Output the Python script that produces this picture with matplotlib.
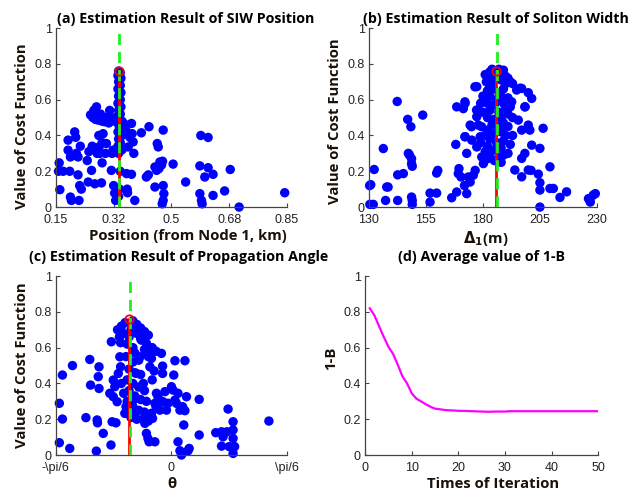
import numpy as np
import matplotlib
matplotlib.use("Agg")
import matplotlib.pyplot as plt

# (a) SIW position estimates (km) vs cost
pos_x = [0.160, 0.158, 0.162, 0.172, 0.187, 0.192, 0.194, 0.197, 0.187, 0.194,
         0.207, 0.210, 0.212, 0.217, 0.217, 0.220, 0.222, 0.227, 0.224, 0.245,
         0.248, 0.250, 0.255, 0.258, 0.260, 0.265, 0.273, 0.268, 0.278, 0.281,
         0.283, 0.288, 0.290, 0.293, 0.298, 0.303, 0.308, 0.313, 0.318, 0.323,
         0.325, 0.328, 0.331, 0.262, 0.270, 0.285, 0.290, 0.300, 0.310, 0.320,
         0.330, 0.280, 0.290, 0.275, 0.300, 0.320,
         0.340, 0.345, 0.338, 0.347, 0.340, 0.345, 0.338, 0.347, 0.340, 0.345,
         0.338, 0.347, 0.340, 0.345, 0.338, 0.350, 0.340, 0.345, 0.338, 0.350,
         0.340, 0.345, 0.338, 0.350, 0.340, 0.345, 0.343, 0.340,
         0.356, 0.362, 0.369, 0.374, 0.379, 0.381, 0.384, 0.386, 0.364, 0.379,
         0.366, 0.367, 0.389, 0.409, 0.432, 0.424, 0.430, 0.450, 0.457, 0.460,
         0.465, 0.473, 0.475, 0.470, 0.462, 0.455, 0.450, 0.475, 0.477, 0.475,
         0.472, 0.505, 0.543, 0.589, 0.611, 0.586, 0.611, 0.601, 0.626, 0.586,
         0.591, 0.593, 0.626, 0.661, 0.678, 0.705, 0.843]
pos_y = [0.247, 0.200, 0.097, 0.200, 0.374, 0.200, 0.056, 0.037, 0.318, 0.280,
         0.420, 0.390, 0.300, 0.280, 0.180, 0.037, 0.120, 0.100, 0.340, 0.260,
         0.140, 0.310, 0.515, 0.205, 0.340, 0.540, 0.560, 0.130, 0.486, 0.336,
         0.300, 0.135, 0.247, 0.410, 0.477, 0.355, 0.505, 0.540, 0.205, 0.318,
         0.120, 0.078, 0.037, 0.500, 0.490, 0.520, 0.480, 0.490, 0.470, 0.480,
         0.500, 0.400, 0.360, 0.300, 0.300, 0.300,
         0.760, 0.750, 0.735, 0.720, 0.700, 0.680, 0.660, 0.640, 0.620, 0.600,
         0.580, 0.560, 0.540, 0.520, 0.500, 0.480, 0.460, 0.440, 0.420, 0.400,
         0.380, 0.360, 0.340, 0.320, 0.300, 0.200, 0.100, 0.060,
         0.467, 0.430, 0.336, 0.390, 0.467, 0.410, 0.364, 0.300, 0.187, 0.183,
         0.100, 0.080, 0.037, 0.415, 0.449, 0.168, 0.180, 0.224, 0.355, 0.336,
         0.252, 0.256, 0.430, 0.235, 0.215, 0.205, 0.112, 0.120, 0.075, 0.037,
         0.018, 0.240, 0.140, 0.400, 0.389, 0.230, 0.220, 0.168, 0.183, 0.075,
         0.037, 0.018, 0.065, 0.090, 0.210, 0.000, 0.080]
pos_true = 0.341
pos_best = (0.342, 0.762)

# (b) soliton width estimates (m) vs cost
wid_x = [130.3, 130.8, 130.4, 131.9, 132.3, 136.3, 137.3, 137.8, 138.4, 142.4,
         142.6, 142.6, 145.1, 147.0, 147.3, 147.8, 148.4, 148.7, 148.7, 149.0,
         148.7, 149.0, 149.0, 153.6, 156.8, 156.8, 159.7, 160.2, 159.7, 166.3,
         168.5, 168.5, 168.1, 169.5, 169.2, 170.4, 171.4, 172.2, 171.9, 172.9,
         172.2, 172.9, 173.6, 174.4, 174.4, 175.1, 175.8, 176.6, 177.3, 177.3,
         177.7, 177.3, 178.0, 178.8, 179.5, 180.2, 180.9, 181.7, 176.5, 172.1,
         177.2, 175.0, 179.4, 172.1,
         181.0, 182.0, 183.0, 184.0, 185.0, 187.0, 188.0, 189.0, 190.0, 191.0,
         192.0, 193.0, 181.5, 183.0, 184.0, 188.0, 190.0, 186.0, 185.0, 187.0,
         189.0,
         182.0, 184.0, 187.0, 189.0, 183.0, 186.0, 188.0, 182.0, 185.0, 189.0,
         183.0, 187.0, 190.0, 182.0, 185.0, 188.0, 191.0, 184.0, 187.0, 189.0,
         182.0, 185.0, 188.0, 190.0, 183.0, 186.0, 189.0, 182.0, 185.0, 188.0,
         183.0, 187.0, 189.0, 182.0, 185.0, 188.0, 191.0, 192.0, 193.0, 191.0,
         193.0, 192.0, 191.0, 180.0, 179.0, 180.0, 179.0, 181.0,
         192.6, 194.8, 197.0, 199.9, 201.4, 198.4, 195.5, 197.0, 199.9, 200.6,
         206.4, 201.4, 205.0, 198.4, 197.0, 194.0, 197.0, 199.9, 204.3, 205.0,
         209.4, 209.4, 210.9, 205.0, 213.8, 216.7, 226.9, 228.4, 205.0, 226.3,
         227.1, 229.3, 196.3, 198.5, 201.1]
wid_y = [0.120, 0.125, 0.015, 0.015, 0.210, 0.327, 0.037, 0.112, 0.112, 0.590,
         0.037, 0.180, 0.187, 0.490, 0.300, 0.290, 0.449, 0.270, 0.243, 0.228,
         0.056, 0.037, 0.015, 0.514, 0.028, 0.078, 0.078, 0.205, 0.190, 0.052,
         0.084, 0.560, 0.350, 0.215, 0.187, 0.168, 0.550, 0.580, 0.120, 0.075,
         0.393, 0.300, 0.168, 0.140, 0.458, 0.374, 0.178, 0.205, 0.336, 0.673,
         0.542, 0.505, 0.458, 0.393, 0.280, 0.243, 0.400, 0.589, 0.672, 0.588,
         0.542, 0.449, 0.449, 0.393,
         0.740, 0.720, 0.755, 0.770, 0.760, 0.770, 0.755, 0.740, 0.730, 0.720,
         0.700, 0.690, 0.700, 0.680, 0.700, 0.710, 0.690, 0.720, 0.740, 0.730,
         0.765,
         0.650, 0.660, 0.640, 0.660, 0.620, 0.600, 0.620, 0.580, 0.570, 0.580,
         0.540, 0.530, 0.550, 0.500, 0.490, 0.500, 0.520, 0.460, 0.450, 0.470,
         0.430, 0.410, 0.420, 0.400, 0.380, 0.360, 0.370, 0.340, 0.320, 0.330,
         0.300, 0.280, 0.290, 0.270, 0.260, 0.250, 0.300, 0.350, 0.400, 0.450,
         0.500, 0.560, 0.610, 0.620, 0.580, 0.530, 0.360, 0.310,
         0.588, 0.654, 0.663, 0.639, 0.607, 0.560, 0.486, 0.430, 0.458, 0.430,
         0.440, 0.346, 0.328, 0.300, 0.272, 0.207, 0.169, 0.207, 0.184, 0.136,
         0.225, 0.104, 0.104, 0.095, 0.054, 0.085, 0.039, 0.067, 0.000, 0.047,
         0.028, 0.075, 0.664, 0.560, 0.205]
wid_true = 186.1
wid_best = (185.6, 0.762)

# (c) propagation angle estimates (degrees, axis spans -pi/6..pi/6) vs cost
ang_x = [-29.1, -28.3, -28.3, -29.1, -26.4, -25.7, -22.2, -21.2, -21.0, -19.5,
         -19.3, -19.2, -19.0, -18.8, -18.8, -17.7, -15.7, -15.4, -14.4, -15.6,
         -13.2, -16.0, -15.1, -15.1, -14.7, -13.8, -13.4, -13.2, -14.1, -13.0,
         -12.4, -12.1, -11.8,
         -9.9, -9.5, -9.1, -8.2, -7.8, -7.3, -6.5, -6.1, -5.6, -5.2,
         -6.9, -6.5, -6.1, -5.8, -4.3, -4.9, -5.2, -4.3, -3.9, -3.5,
         -3.0, -2.6, -2.3, -2.3, -2.2, -1.7, -1.3, -0.9, 0.0, 0.4,
         0.6, 0.9, 0.9, 1.3, 1.7, 2.2, 2.9, 3.5, 3.2, 1.7,
         2.2, 2.6, 4.3, 4.6, 3.5, 3.9, 7.2, 7.2, 11.5, 13.0,
         13.4, 14.4, 14.7, 13.0, 15.0, 16.0, 16.0, 16.0, 16.4, 16.0,
         25.3,
         -14.0, -13.0, -12.0, -10.0, -9.0, -8.0, -7.0, -6.0, -12.5, -10.5,
         -9.0, -11.0, -8.0, -13.5,
         -11.5, -10.0, -9.5, -11.8, -10.0, -8.5, -11.0, -9.5, -8.0, -11.5,
         -10.0, -8.5, -7.0, -11.0, -9.5, -8.0, -6.5, -11.5, -10.0, -8.5,
         -7.0, -5.5, -10.5, -9.0, -7.5, -6.0, -4.0, -3.0, -5.0, -4.5,
         -6.0, -7.0, -5.0, -4.0]
ang_y = [0.289, 0.447, 0.201, 0.069, 0.037, 0.500, 0.209, 0.534, 0.391, 0.022,
         0.196, 0.180, 0.438, 0.372, 0.493, 0.121, 0.056, 0.186, 0.180, 0.633,
         0.628, 0.345, 0.326, 0.419, 0.382, 0.456, 0.549, 0.493, 0.298, 0.400,
         0.345, 0.233, 0.270,
         0.307, 0.233, 0.456, 0.549, 0.642, 0.400, 0.624, 0.568, 0.493, 0.540,
         0.177, 0.121, 0.093, 0.074, 0.074, 0.205, 0.233, 0.289, 0.345, 0.326,
         0.251, 0.568, 0.456, 0.497, 0.298, 0.354, 0.251, 0.289, 0.382, 0.363,
         0.447, 0.527, 0.307, 0.289, 0.345, 0.251, 0.270, 0.248, 0.168, 0.074,
         0.024, 0.000, 0.024, 0.037, 0.527, 0.326, 0.311, 0.112, 0.125, 0.130,
         0.102, 0.130, 0.257, 0.050, 0.047, 0.186, 0.140, 0.093, 0.047, 0.009,
         0.190,
         0.700, 0.720, 0.740, 0.750, 0.730, 0.710, 0.690, 0.670, 0.680, 0.700,
         0.680, 0.660, 0.650, 0.660,
         0.620, 0.600, 0.570, 0.550, 0.520, 0.530, 0.480, 0.460, 0.450, 0.420,
         0.400, 0.380, 0.360, 0.360, 0.330, 0.310, 0.300, 0.300, 0.270, 0.250,
         0.240, 0.220, 0.210, 0.200, 0.200, 0.190, 0.270, 0.300, 0.420, 0.470,
         0.550, 0.590, 0.600, 0.580]
ang_true = -10.8
ang_best = (-11.1, 0.760)

# (d) average value of 1-B per iteration
iters = list(range(1, 51))
one_minus_b = [0.820, 0.780, 0.720, 0.660, 0.605, 0.565, 0.505, 0.440, 0.400, 0.345,
               0.315, 0.300, 0.284, 0.270, 0.259, 0.256, 0.252, 0.250, 0.249, 0.247,
               0.247, 0.246, 0.245, 0.244, 0.243, 0.242, 0.242, 0.243, 0.243, 0.243,
               0.245, 0.245, 0.245, 0.245, 0.245, 0.245, 0.245, 0.245, 0.245, 0.245,
               0.245, 0.245, 0.245, 0.245, 0.245, 0.245, 0.245, 0.245, 0.245, 0.245]

plt.rcParams['font.family'] = ['Liberation Sans', 'DejaVu Sans']

fig = plt.figure(figsize=(6.35, 4.93), dpi=100)
boxes = [[0.088, 0.580, 0.364, 0.363], [0.581, 0.580, 0.359, 0.363],
         [0.088, 0.077, 0.364, 0.363], [0.575, 0.077, 0.367, 0.363]]
axes = [fig.add_axes(b) for b in boxes]

lab_font = dict(family=['Open Sans', 'DejaVu Sans'], fontweight='bold', fontsize=10.7, color='#1a1208')
title_font = dict(family=['Open Sans', 'DejaVu Sans'], fontweight='bold', fontsize=10.3, color='black')


def style(ax):
    ax.spines['top'].set_visible(False)
    ax.spines['right'].set_visible(False)
    for s in ('left', 'bottom'):
        ax.spines[s].set_color('#444444')
        ax.spines[s].set_linewidth(0.9)
    ax.tick_params(direction='in', length=3, width=0.8, color='#444444',
                   labelsize=9, labelcolor='#222222')
    ax.tick_params(axis='x', pad=5)
    ax.tick_params(axis='y', pad=3)
    ax.set_ylim(0, 1)
    ax.set_yticks([0, 0.2, 0.4, 0.6, 0.8, 1])
    ax.set_yticklabels(['0', '0.2', '0.4', '0.6', '0.8', '1'])


def scatter_panel(ax, xs, ys, true_x, best, title, xlabel, title_x, title_pad, xlab_x, ylab_y):
    style(ax)
    ax.scatter(xs, ys, s=46, c='#0000ff', edgecolors='none', zorder=2, clip_on=False)
    ax.plot([best[0], best[0]], [0, best[1]], color='#ff0000', lw=2, zorder=3)
    ax.plot([true_x, true_x], [0, 1], color='#22ee22', lw=2, ls=(0, (4, 2.5)), zorder=4)
    ax.plot([best[0]], [best[1]], 'o', mfc='none', mec='#ff0000', ms=6, mew=1.3, zorder=5)
    ax.set_title(title, x=title_x, pad=title_pad, **title_font)
    ax.set_xlabel(xlabel, labelpad=2, x=xlab_x, **lab_font)
    ax.set_ylabel('Value of Cost Function', labelpad=4, y=ylab_y, **lab_font)


ax = axes[0]
scatter_panel(ax, pos_x, pos_y, pos_true, pos_best,
              '(a) Estimation Result of SIW Position', 'Position (from Node 1, km)',
              0.56, 4, 0.57, 0.45)
ax.set_xlim(0.15, 0.85)
ax.set_xticks(np.linspace(0.15, 0.85, 5))
ax.set_xticklabels(['0.15', '0.32', '0.5', '0.68', '0.85'])

ax = axes[1]
scatter_panel(ax, wid_x, wid_y, wid_true, wid_best,
              '(b) Estimation Result of Soliton Width', r'$\mathbf{\Delta_1}$(m)',
              0.555, 4, 0.51, 0.48)
ax.set_xlim(130, 230)
ax.set_xticks([130, 155, 180, 205, 230])

ax = axes[2]
scatter_panel(ax, ang_x, ang_y, ang_true, ang_best,
              '(c) Estimation Result of Propagation Angle', 'θ',
              0.53, 11, 0.5, 0.5)
ax.set_xlim(-30, 30)
ax.set_xticks([-30, 0, 30])
ax.set_xticklabels(['-\\pi/6', '0', '\\pi/6'])

ax = axes[3]
style(ax)
ax.plot(iters, one_minus_b, color='#ff00ff', lw=1.6)
ax.set_xlim(0, 50)
ax.set_xticks([0, 10, 20, 30, 40, 50])
ax.set_title('(d) Average value of 1-B', pad=11, **title_font)
ax.set_xlabel('Times of Iteration', labelpad=2, x=0.547, **lab_font)
ax.set_ylabel('1-B', labelpad=4, y=0.54, **lab_font)

fig.savefig('out.png', dpi=100)
